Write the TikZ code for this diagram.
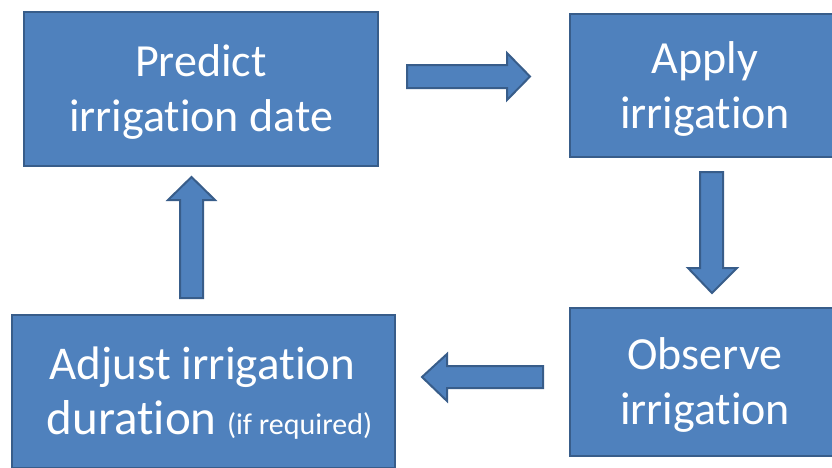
\documentclass[tikz,border=0pt]{standalone}
\usepackage{fontspec}
\setmainfont{Carlito}[Ligatures={NoCommon}]
\definecolor{boxfill}{HTML}{4F81BD}
\definecolor{boxline}{HTML}{385D8A}
\tikzset{
  box/.style={draw=boxline, fill=boxfill, line width=2.5pt, inner sep=0pt},
  boxtext/.style={text=white, align=center, inner sep=0pt, font=\fontsize{46}{55}\selectfont},
  blockarr/.style={draw=boxline, fill=boxfill, line width=2pt, line join=miter}
}
\begin{document}
\begin{tikzpicture}[x=1pt,y=-1pt]
\clip (0,0) rectangle (832,467);
\fill[white] (0,0) rectangle (832,467);
\node[box, minimum width=354, minimum height=154] (predict) at (201,89) {};
\node[boxtext] (predictT) at ([yshift=-3pt]predict.center) {Predict\\irrigation date};
\node[box, minimum width=270, minimum height=143] (apply) at (705,85.5) {};
\node[boxtext] (applyT) at ([yshift=-3pt]apply.center) {Apply\\irrigation};
\node[box, minimum width=270, minimum height=148] (observe) at (705,382) {};
\node[boxtext] (observeT) at ([yshift=-3pt]observe.center) {Observe\\irrigation};
\node[box, minimum width=383, minimum height=153] (adjust) at (203.5,391.5) {};
\node[boxtext] (adjustT) at ([xshift=6pt,yshift=-2pt]adjust.center) {{\fontsize{47}{55}\selectfont Adjust irrigation}\hspace*{14pt}\\{\fontsize{49}{55}\selectfont duration} {\fontsize{30}{34}\selectfont (if required)}};
% right arrow
\draw[blockarr] (407,65) -- (507,65) -- (507,53) -- (530,76.5) -- (507,100) -- (507,88) -- (407,88) -- cycle;
% down arrow
\draw[blockarr] (700,172) -- (723,172) -- (723,268) -- (737,268) -- (712,293) -- (688,268) -- (700,268) -- cycle;
% left arrow
\draw[blockarr] (543,366) -- (447,366) -- (447,354) -- (422,377) -- (447,401) -- (447,388) -- (543,388) -- cycle;
% up arrow
\draw[blockarr] (180,298) -- (180,200) -- (168,200) -- (191.5,177) -- (215,200) -- (203,200) -- (203,298) -- cycle;
\end{tikzpicture}
\end{document}
